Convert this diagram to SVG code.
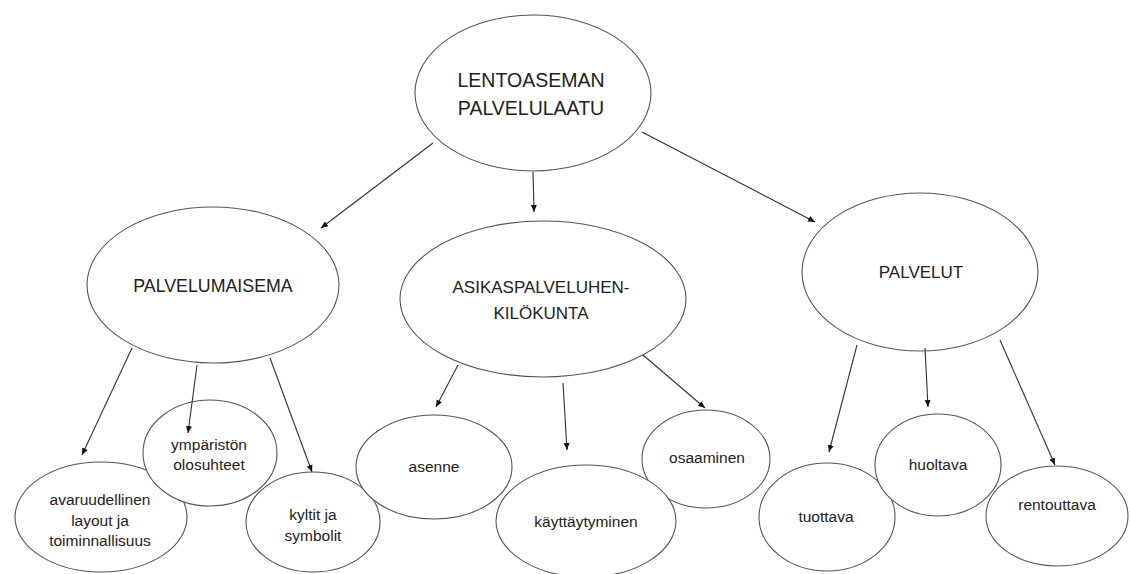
<svg xmlns="http://www.w3.org/2000/svg" width="1130" height="574" viewBox="0 0 1130 574">
<style>
.n ellipse{fill:#fff;stroke:#555;stroke-width:1.1}
.n text{font-family:"Liberation Sans",Arial,sans-serif;fill:#222;text-anchor:middle}
.t0 text{font-size:19.5px}
.t1 text{font-size:17px}
.t2 text{font-size:15.5px}
#edges line{stroke:#333;stroke-width:1.1;marker-end:url(#ah)}
</style>
<defs>
<marker id="ah" markerUnits="userSpaceOnUse" markerWidth="8" markerHeight="8" viewBox="0 0 8 8" refX="7" refY="4" orient="auto">
<path d="M0,1 L7,4 L0,7 Z" fill="#111"/>
</marker>
</defs>
<rect width="1130" height="574" fill="#fff"/>
<g id="lentoaseman" class="n t0">
<ellipse cx="533" cy="93" rx="118" ry="78"/>
<text x="531" y="87">LENTOASEMAN</text>
<text x="531" y="115">PALVELULAATU</text>
</g>
<g id="palvelumaisema" class="n t1">
<ellipse cx="213" cy="285" rx="126" ry="78"/>
<text x="213" y="292" style="font-size:17.8px">PALVELUMAISEMA</text>
</g>
<g id="asikaspalvelu" class="n t1">
<ellipse cx="543" cy="299" rx="143" ry="78"/>
<text x="541" y="293">ASIKASPALVELUHEN-</text>
<text x="541" y="319">KILÖKUNTA</text>
</g>
<g id="palvelut" class="n t1">
<ellipse cx="920" cy="272" rx="118" ry="79"/>
<text x="921" y="278">PALVELUT</text>
</g>
<g id="avaruudellinen" class="n t2">
<ellipse cx="101" cy="517" rx="86" ry="55"/>
<text x="100" y="505">avaruudellinen</text>
<text x="100" y="526">layout ja</text>
<text x="100" y="546">toiminnallisuus</text>
</g>
<g id="ymparisto" class="n t2">
<ellipse cx="210" cy="453" rx="67" ry="53"/>
<text x="209" y="450">ympäristön</text>
<text x="209" y="470">olosuhteet</text>
</g>
<g id="kyltit" class="n t2">
<ellipse cx="313" cy="522" rx="67" ry="50"/>
<text x="313" y="520">kyltit ja</text>
<text x="313" y="541">symbolit</text>
</g>
<g id="asenne" class="n t2">
<ellipse cx="434" cy="467" rx="78" ry="52"/>
<text x="434" y="472">asenne</text>
</g>
<g id="osaaminen" class="n t2">
<ellipse cx="706" cy="459" rx="64" ry="49"/>
<text x="707" y="463">osaaminen</text>
</g>
<g id="kayttaytyminen" class="n t2">
<ellipse cx="586" cy="521" rx="90" ry="56"/>
<text x="586" y="527">käyttäytyminen</text>
</g>
<g id="tuottava" class="n t2">
<ellipse cx="827" cy="517" rx="68" ry="54"/>
<text x="826" y="522">tuottava</text>
</g>
<g id="rentouttava" class="n t2">
<ellipse cx="1057" cy="516" rx="71" ry="50"/>
<text x="1057" y="510">rentouttava</text>
</g>
<g id="huoltava" class="n t2">
<ellipse cx="938" cy="465" rx="63" ry="51"/>
<text x="938" y="470">huoltava</text>
</g>
<g id="edges">
<line x1="433" y1="143" x2="321" y2="228"/>
<line x1="533" y1="172" x2="534" y2="212"/>
<line x1="642" y1="132" x2="815" y2="222"/>
<line x1="132" y1="348" x2="82" y2="455"/>
<line x1="197" y1="365" x2="188" y2="433"/>
<line x1="270" y1="358" x2="312" y2="472"/>
<line x1="458" y1="365" x2="436" y2="407"/>
<line x1="563" y1="383" x2="567" y2="450"/>
<line x1="643" y1="355" x2="705" y2="408"/>
<line x1="857" y1="345" x2="829" y2="452"/>
<line x1="925" y1="348" x2="928" y2="407"/>
<line x1="1000" y1="340" x2="1055" y2="465"/>
</g>
</svg>
